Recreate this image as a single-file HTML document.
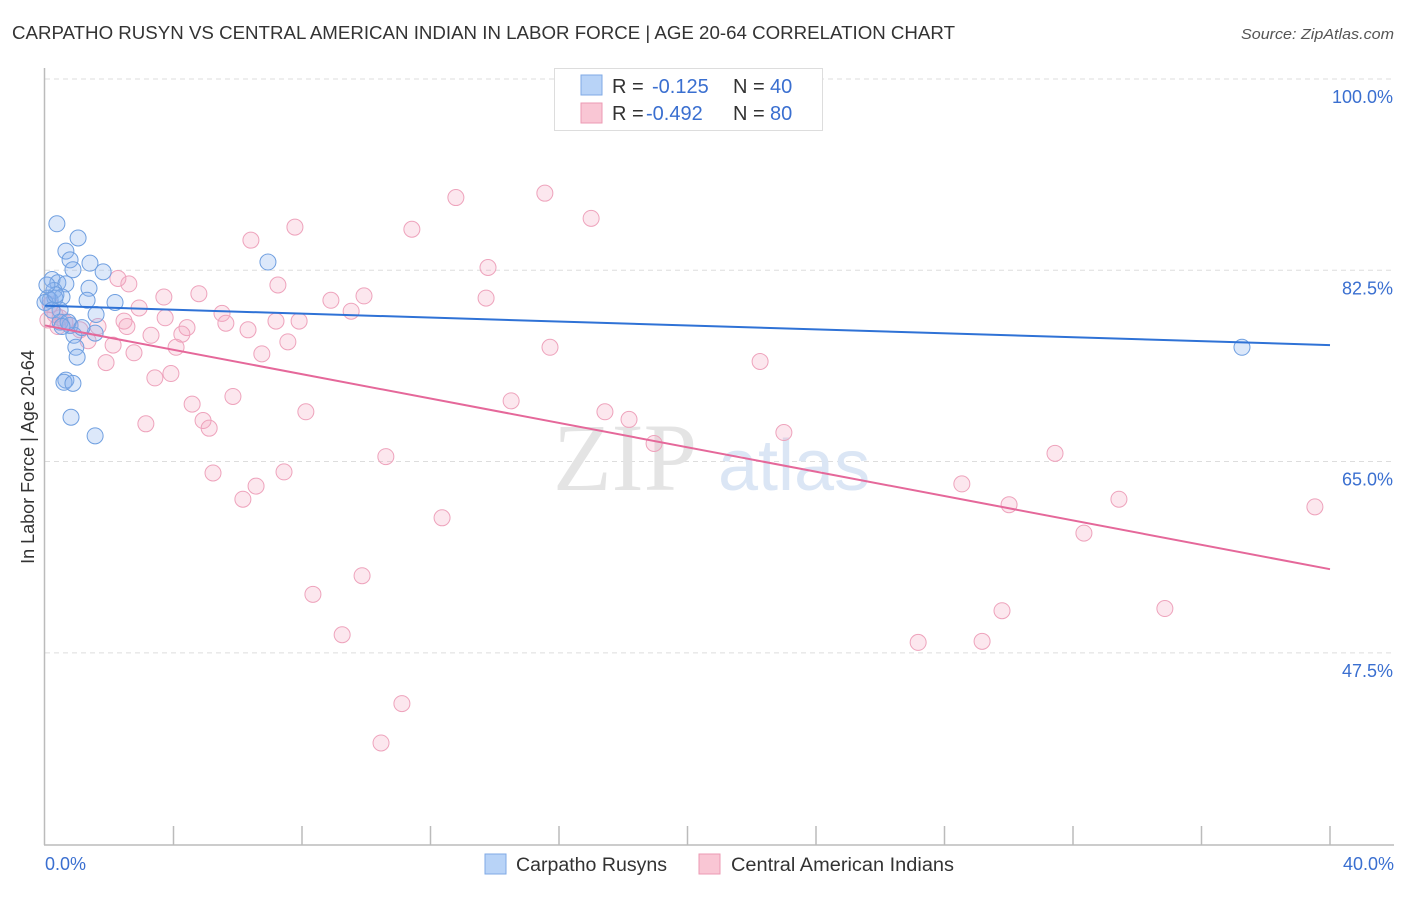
<!DOCTYPE html>
<html><head><meta charset="utf-8"><style>
body{margin:0;background:#fff;width:1406px;height:892px;overflow:hidden;font-family:"Liberation Sans",sans-serif}
</style></head><body>
<svg width="1406" height="892">
<text x="12" y="39" font-size="18" fill="#333" textLength="943" lengthAdjust="spacingAndGlyphs">CARPATHO RUSYN VS CENTRAL AMERICAN INDIAN IN LABOR FORCE | AGE 20-64 CORRELATION CHART</text>
<text x="1394" y="39" font-size="15" fill="#555" font-style="italic" text-anchor="end" textLength="153" lengthAdjust="spacingAndGlyphs">Source: ZipAtlas.com</text>
<g id="grid"></g>
<g><text x="553" y="490" font-size="96" fill="#e4e4e4" font-family="Liberation Serif, serif">ZIP</text><text x="718" y="490" font-size="72" fill="#dbe6f5">atlas</text></g>
<line x1="44.5" y1="68" x2="44.5" y2="845" stroke="#bbb" stroke-width="1.5"/>
<line x1="44" y1="845" x2="1394" y2="845" stroke="#bbb" stroke-width="1.5"/>
<g id="ticks"></g>
<g id="pts"></g>
<g id="lines"></g>
<text x="34" y="457" font-size="18" fill="#333" text-anchor="middle" transform="rotate(-90 34 457)">In Labor Force | Age 20-64</text>
<text x="45" y="870" font-size="18" fill="#3a6fd0">0.0%</text>
<text x="1394" y="870" font-size="18" fill="#3a6fd0" text-anchor="end">40.0%</text>
<g>
<rect x="554.5" y="68.5" width="268" height="62" fill="#fff" stroke="#ddd"/>
<rect x="581" y="75" width="21" height="20" fill="#b8d3f7" stroke="#7fa9e6"/>
<rect x="581" y="103" width="21" height="20" fill="#f9c6d4" stroke="#ec9ab3"/>
<text y="93" font-size="20" fill="#333"><tspan x="612">R = </tspan><tspan x="652" fill="#3a6fd0">-0.125</tspan><tspan x="733">N = </tspan><tspan x="770" fill="#3a6fd0">40</tspan></text>
<text y="120" font-size="20" fill="#333"><tspan x="612">R = </tspan><tspan x="646" fill="#3a6fd0">-0.492</tspan><tspan x="733">N = </tspan><tspan x="770" fill="#3a6fd0">80</tspan></text>
</g>
<g>
<rect x="485" y="854" width="21" height="20" fill="#b8d3f7" stroke="#7fa9e6"/>
<text x="516" y="871" font-size="19" fill="#333" textLength="151" lengthAdjust="spacingAndGlyphs">Carpatho Rusyns</text>
<rect x="699" y="854" width="21" height="20" fill="#f9c6d4" stroke="#ec9ab3"/>
<text x="731" y="871" font-size="19" fill="#333" textLength="223" lengthAdjust="spacingAndGlyphs">Central American Indians</text>
</g>
</svg>
<script>
const yTicks=[100,82.5,65,47.5];
const yTickLabels=["100.0%","82.5%","65.0%","47.5%"];
const xTicks=[0,4,8,12,16,20,24,28,32,36,40];
const blueX=[0.37,0.65,1.03,0.78,1.40,1.81,0.87,0.22,0.40,0.65,0.28,1.37,0.53,0.16,0.31,1.31,2.18,0.47,0.47,0.78,1.59,0.90,1.56,0.96,1.00,0.65,0.59,0.87,0.81,1.56,6.94,37.26,0.09,0.0,0.34,0.72,0.22,0.06,0.53,1.15];
const blueY=[88.4,85.9,87.1,85.1,84.8,84.0,84.2,83.3,83.0,82.9,82.3,82.5,81.7,81.4,81.6,81.4,81.2,80.5,79.4,79.1,80.1,78.2,78.4,77.1,76.2,74.1,73.9,73.8,70.7,69.0,84.9,77.1,81.6,81.2,81.9,79.4,80.5,82.8,79.0,78.9];
const pinkX=[15.56,12.79,17.0,7.78,11.42,6.41,13.79,2.27,2.61,7.25,4.79,3.70,8.90,9.93,13.73,2.93,5.51,9.53,3.74,2.46,7.19,7.91,5.63,4.42,0.47,0.78,1.65,2.55,6.32,3.30,4.26,1.34,2.12,7.56,4.08,15.72,2.77,6.75,1.90,22.26,3.42,3.92,5.85,4.58,14.51,8.12,17.43,18.18,4.92,5.11,3.14,23.0,18.96,31.44,10.61,5.23,7.44,6.57,28.54,6.16,30.01,33.43,39.53,12.36,32.34,9.87,8.34,29.79,34.86,9.25,27.18,29.17,11.11,10.46,0.16,0.31,0.62,1.09,0.09,0.40];
const pinkY=[91.2,90.8,88.9,88.1,87.9,86.9,84.4,83.4,82.9,82.8,82.0,81.7,81.4,81.8,81.6,80.7,80.2,80.4,79.8,79.5,79.5,79.5,79.3,78.9,79.8,79.1,79.0,79.0,78.7,78.2,78.3,77.7,77.3,77.6,77.1,77.1,76.6,76.5,75.7,75.8,74.3,74.7,72.6,71.9,72.2,71.2,71.2,70.5,70.4,69.7,70.1,69.3,68.3,67.4,67.1,65.6,65.7,64.4,64.6,63.2,62.7,63.2,62.5,61.5,60.1,56.2,54.5,53.0,53.2,50.8,50.1,50.2,44.5,40.9,81.0,80.1,79.4,78.7,79.6,79.0];
const blueTrend=[80.9,77.3];
const pinkTrend=[79.1,56.8];
const NS="http://www.w3.org/2000/svg";
const xs=v=>45+v*32.125;
const ys=v=>97+(100-v)*10.93;
function mk(t,a,p){const e=document.createElementNS(NS,t);for(const k in a)e.setAttribute(k,a[k]);p.appendChild(e);return e;}
const grid=document.getElementById('grid');
yTicks.forEach((v,i)=>{
 const l=mk('line',{x1:45,x2:1394,y1:ys(v)-18,y2:ys(v)-18,stroke:'#ddd','stroke-dasharray':'5,4'},grid);
 
 
 const t=mk('text',{x:1393,y:ys(v)+6,'font-size':18,fill:'#3a6fd0','text-anchor':'end'},grid);
 t.textContent=yTickLabels[i];
 
 
});
const tk=document.getElementById('ticks');
xTicks.forEach(v=>{if(v===0)return;
 const l=mk('line',{x1:xs(v),x2:xs(v),y1:826,y2:845,stroke:'#bbb','stroke-width':1.5},tk);
 
 
});
const pts=document.getElementById('pts');
pinkX.forEach((x,i)=>{
 const c=mk('circle',{cx:xs(x),cy:ys(pinkY[i]),r:8,fill:'rgba(244,160,188,0.25)',stroke:'#eea3bc','stroke-width':1},pts);
 
 
});
blueX.forEach((x,i)=>{
 const c=mk('circle',{cx:xs(x),cy:ys(blueY[i]),r:8,fill:'rgba(140,180,240,0.3)',stroke:'#6f9fe0','stroke-width':1},pts);
 
 
});
const ln=document.getElementById('lines');
const b=mk('line',{x1:xs(0),x2:xs(40),y1:ys(blueTrend[0]),y2:ys(blueTrend[1]),stroke:'#2f72d6','stroke-width':2},ln);


const p=mk('line',{x1:xs(0),x2:xs(40),y1:ys(pinkTrend[0]),y2:ys(pinkTrend[1]),stroke:'#e5689a','stroke-width':2},ln);


</script>
</body></html>
